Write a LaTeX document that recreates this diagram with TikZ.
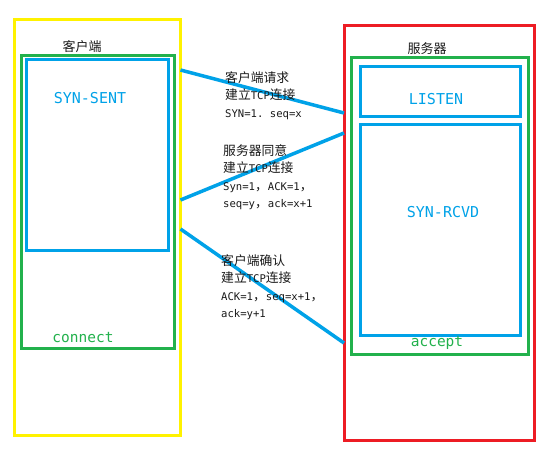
\documentclass[tikz,border=0pt]{standalone}
\usepackage{fontspec}
\setmainfont{Noto Sans CJK SC}
\setmonofont{DejaVu Sans Mono}
\definecolor{pyellow}{HTML}{FFF200}
\definecolor{pgreen}{HTML}{22B14C}
\definecolor{pblue}{HTML}{00A2E8}
\definecolor{pred}{HTML}{ED1C24}
\definecolor{ptext}{HTML}{1A1A1A}
\newcommand{\lat}[1]{{\ttfamily\fontsize{10.6}{17.5}\selectfont #1}}
\tikzset{
  box/.style={draw=#1, line width=3pt, inner sep=0pt, outer sep=0pt, anchor=north west},
  conn/.style={draw=pblue, line width=3.5pt},
  title/.style={text=ptext, font=\fontsize{13}{15}\selectfont, inner sep=0pt},
  state/.style={text=pblue, font=\ttfamily\fontsize{15}{17}\selectfont, inner sep=0pt},
  fn/.style={text=pgreen, font=\ttfamily\fontsize{14.5}{17}\selectfont, inner sep=0pt},
  msg/.style={text=ptext, font=\fontsize{12.8}{17.5}\selectfont, align=left, anchor=north west, inner sep=0pt}
}
\begin{document}
\begin{tikzpicture}[x=1pt,y=-1pt]
\fill[white] (0,0) rectangle (554,459);
\useasboundingbox (0,0) rectangle (554,459);
% client side
\node[box=pyellow, minimum width=166.5pt, minimum height=416pt] (client) at (14,19) {};
\node[box=pgreen, minimum width=153pt, minimum height=293pt] (cproc) at (21,55) {};
\node[box=pblue, minimum width=141.6pt, minimum height=191pt] (csent) at (26.7,59) {};
\node[title] (ctitle) at (82,47) {客户端};
\node[state] (synsent) at (90,98) {SYN-SENT};
\node[fn] (connect) at (83,338) {connect};
% server side
\node[box=pred, minimum width=190pt, minimum height=414.3pt] (server) at (344,25.7) {};
\node[box=pgreen, minimum width=177.3pt, minimum height=296.6pt] (sproc) at (351,57.7) {};
\node[box=pblue, minimum width=160pt, minimum height=50pt] (listenbox) at (360,66) {};
\node[box=pblue, minimum width=160pt, minimum height=211pt] (rcvdbox) at (360,124) {};
\node[title] (stitle) at (427,49) {服务器};
\node[state] (listen) at (436,99) {LISTEN};
\node[state] (synrcvd) at (443,212) {SYN-RCVD};
\node[fn] (accept) at (437,343) {accept};
% connectors
\draw[conn] (client.east |- 0,70) -- (server.west |- 0,113);
\draw[conn] (client.east |- 0,200) -- (server.west |- 0,133);
\draw[conn] (client.east |- 0,229) -- (server.west |- 0,343);
% messages
\node[msg] (m1) at (225,71) {客户端请求\\建立\lat{TCP}连接\\\lat{SYN=1. seq=x}};
\node[msg] (m2) at (223,144) {服务器同意\\建立\lat{TCP}连接\\\lat{Syn=1}，\lat{ACK=1}，\\\lat{seq=y}，\lat{ack=x+1}};
\node[msg] (m3) at (221,254) {客户端确认\\建立\lat{TCP}连接\\\lat{ACK=1}，\lat{seq=x+1}，\\\lat{ack=y+1}};
\end{tikzpicture}
\end{document}
